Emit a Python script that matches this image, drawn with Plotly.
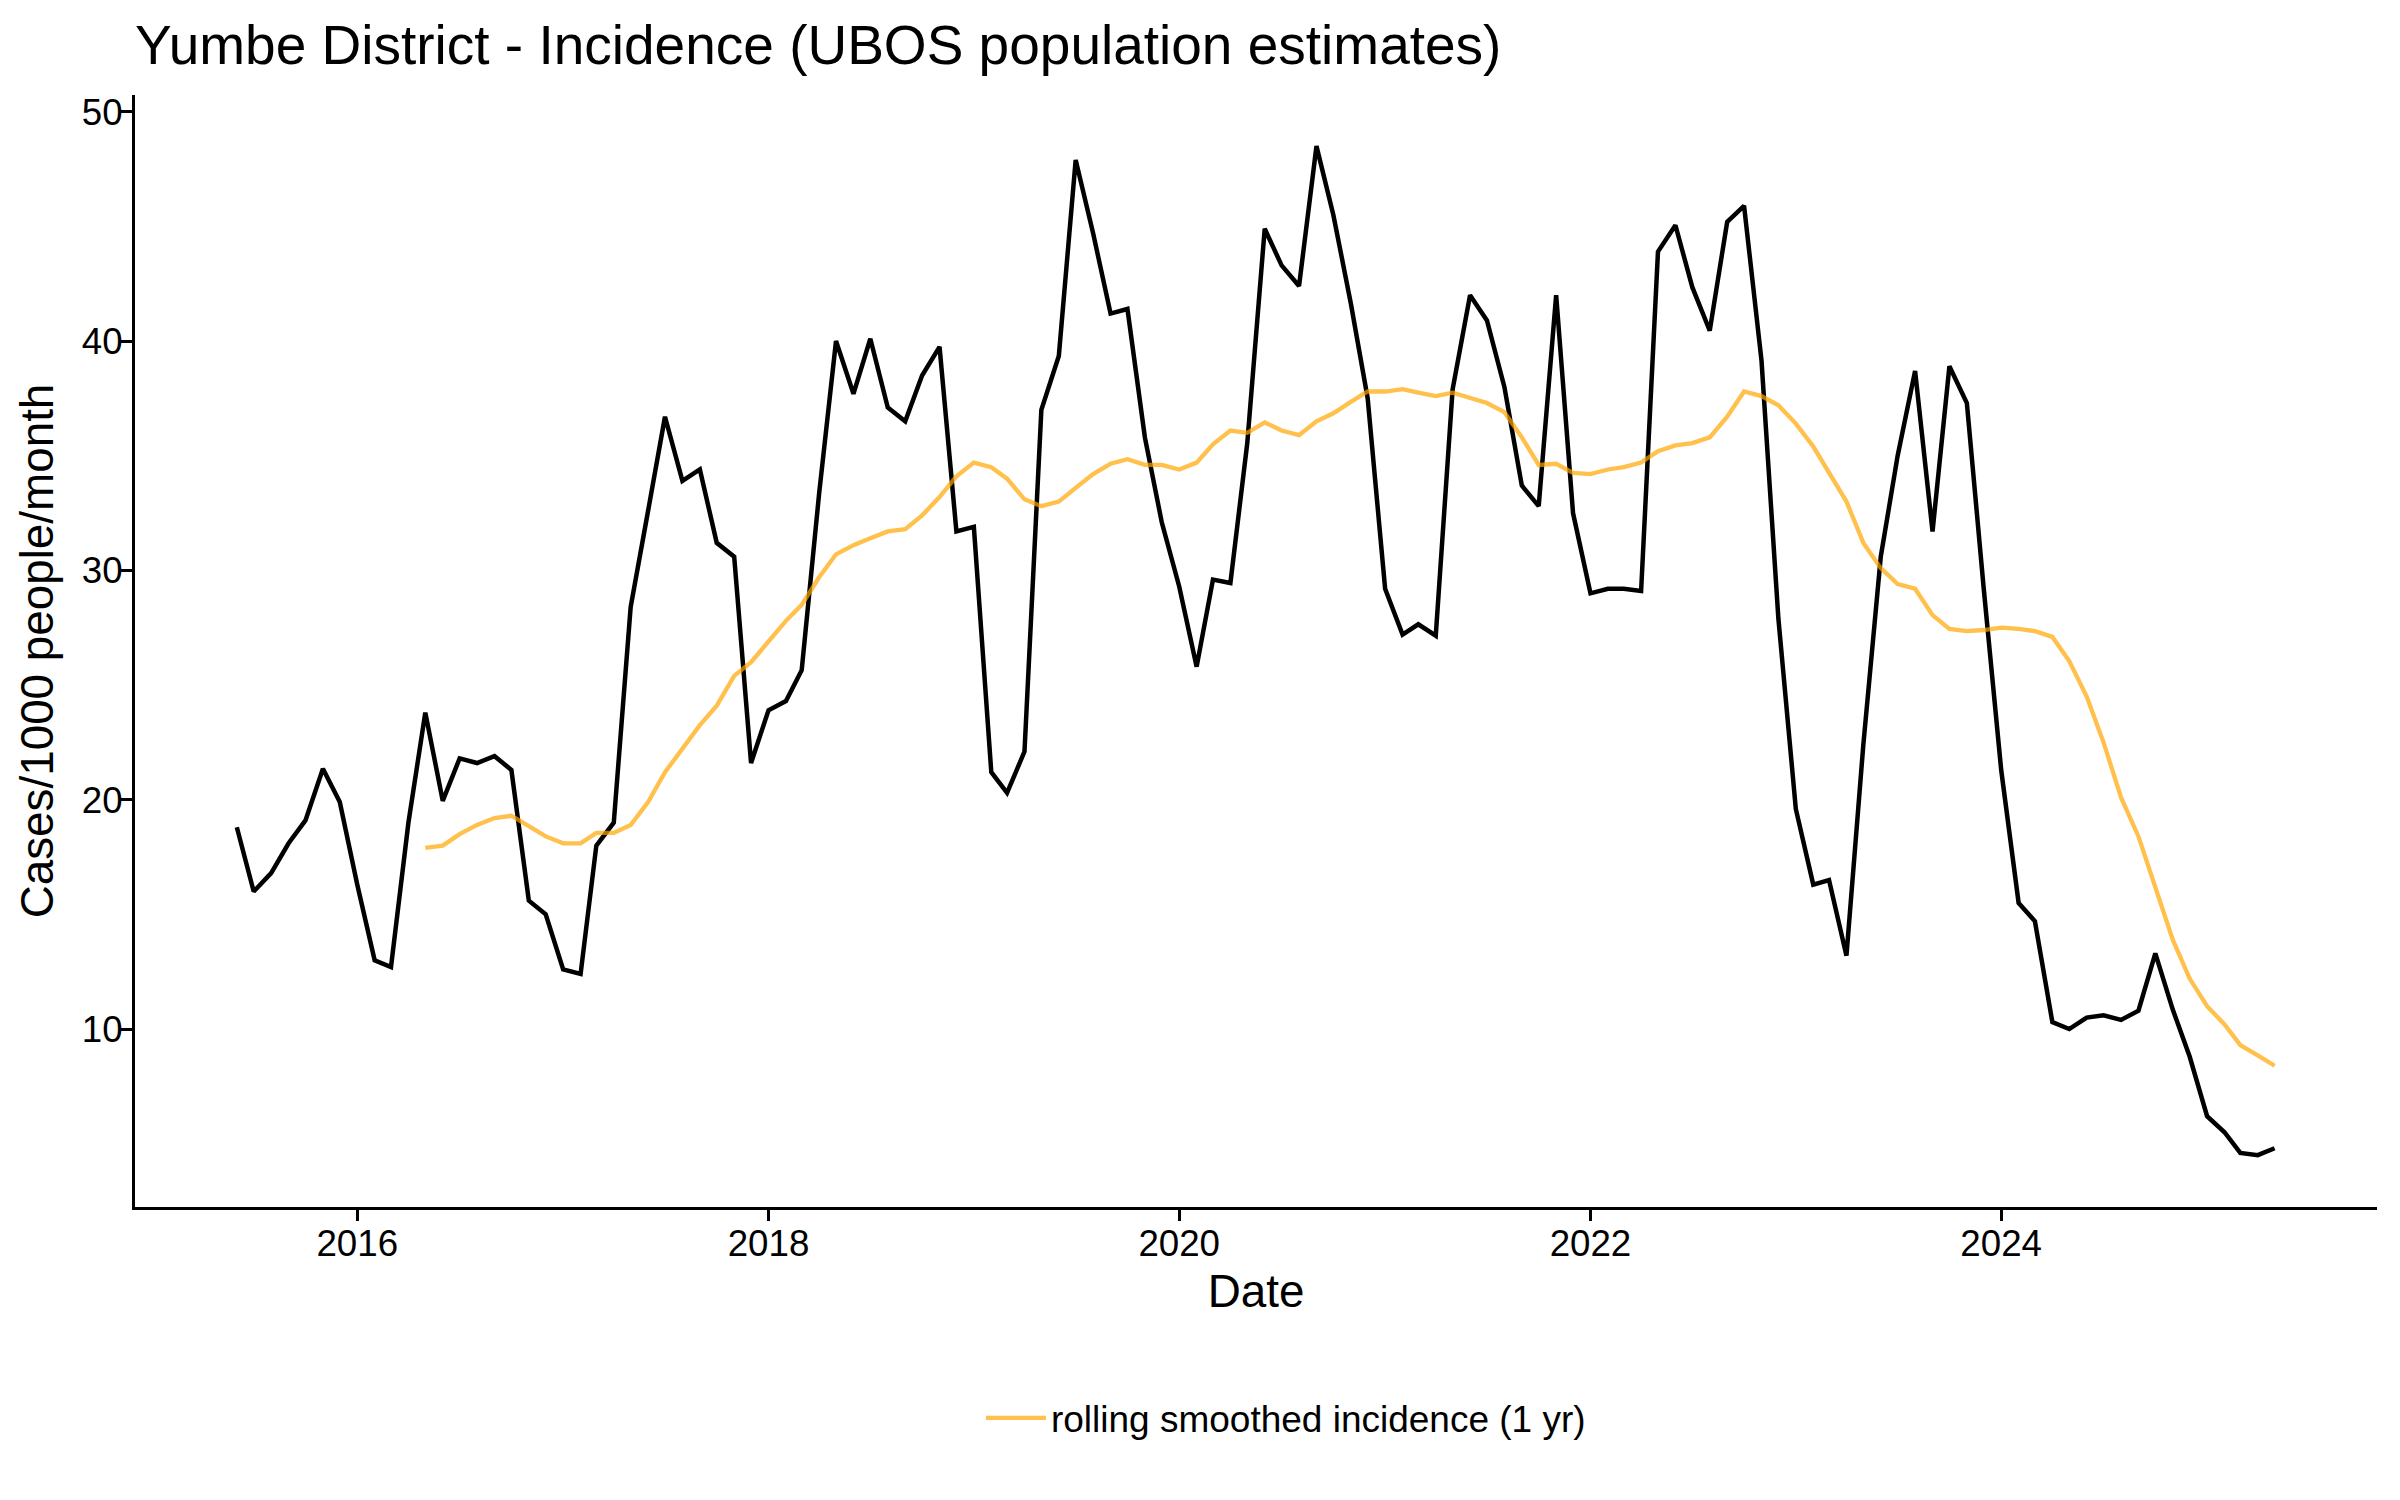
import pandas as pd
import plotly.graph_objects as go

# Monthly incidence (cases/1000 people/month), June 2015 - May 2025
start_month = "2015-06-01"
incidence = [
    18.8, 16.0, 16.8, 18.1, 19.1, 21.35, 19.9, 16.3, 13.0, 12.7, 19.0, 23.8,
    19.95, 21.8, 21.6, 21.9, 21.3, 15.6, 15.0, 12.6, 12.4, 18.0, 19.0, 28.4,
    32.6, 36.7, 33.9, 34.4, 31.2, 30.6, 21.6, 23.9, 24.3, 25.65, 33.35, 40.0,
    37.7, 40.1, 37.1, 36.5, 38.5, 39.75, 31.7, 31.9, 21.2, 20.3, 22.1, 37.0,
    39.35, 47.9, 44.7, 41.2, 41.4, 35.8, 32.1, 29.3, 25.8, 29.6, 29.45, 35.55,
    44.9, 43.3, 42.4, 48.5, 45.5, 41.65, 37.5, 29.2, 27.2, 27.65, 27.15, 37.9,
    42.0, 40.9, 38.0, 33.7, 32.8, 42.0, 32.5, 29.0, 29.2, 29.2, 29.1, 43.9,
    45.05, 42.35, 40.45, 45.2, 45.9, 39.15, 27.9, 19.6, 16.3, 16.5, 13.2, 22.4,
    30.6, 35.0, 38.7, 31.7, 38.9, 37.3, 29.2, 21.3, 15.5, 14.7, 10.3, 10.0,
    10.5, 10.6, 10.4, 10.8, 13.3, 10.85, 8.8, 6.2, 5.5, 4.6, 4.5, 4.8,
]

# Rolling 1-year smoothed incidence, May 2016 - May 2025
rolling_start_month = "2016-05-01"
rolling = [
    17.9, 18.0, 18.5, 18.9, 19.2, 19.3, 18.85, 18.4, 18.1, 18.1, 18.55, 18.55,
    18.9, 19.9, 21.2, 22.2, 23.25, 24.1, 25.4, 26.0, 26.9, 27.8, 28.5, 29.7,
    30.7, 31.1, 31.4, 31.7, 31.8, 32.4, 33.2, 34.1, 34.7, 34.5, 34.0, 33.1,
    32.8, 33.0, 33.6, 34.2, 34.65, 34.85, 34.6, 34.6, 34.4, 34.7, 35.5, 36.1,
    36.0, 36.45, 36.1, 35.9, 36.5, 36.85, 37.35, 37.8, 37.8, 37.9, 37.75, 37.6,
    37.75, 37.5, 37.3, 36.9, 35.8, 34.6, 34.65, 34.25, 34.2, 34.4, 34.5, 34.7,
    35.2, 35.45, 35.55, 35.8, 36.7, 37.8, 37.6, 37.2, 36.4, 35.4, 34.25, 33.0,
    31.2, 30.1, 29.4, 29.2, 28.05, 27.45, 27.35, 27.4, 27.5, 27.45, 27.35, 27.1,
    26.05, 24.5, 22.5, 20.1, 18.4, 16.2, 13.9, 12.2, 11.0, 10.2, 9.3, 8.85,
    8.4,
]

x_tick_values = ["2016-01-01", "2018-01-01", "2020-01-01", "2022-01-01", "2024-01-01"]
x_tick_labels = ["2016", "2018", "2020", "2022", "2024"]
y_tick_values = [10, 20, 30, 40, 50]

title_text = "Yumbe District - Incidence (UBOS population estimates)"
x_title = "Date"
y_title = "Cases/1000 people/month"
legend_label = "rolling smoothed incidence (1 yr)"

dates = pd.date_range(start_month, periods=len(incidence), freq="MS")
rolling_dates = pd.date_range(rolling_start_month, periods=len(rolling), freq="MS")

FONT = "Liberation Sans, Arial, Helvetica, sans-serif"

fig = go.Figure()
fig.add_trace(go.Scatter(
    x=dates, y=incidence, mode="lines",
    line=dict(color="black", width=4.5),
    showlegend=False, name="incidence",
))
fig.add_trace(go.Scatter(
    x=rolling_dates, y=rolling, mode="lines",
    line=dict(color="rgba(255,165,0,0.7)", width=4.3),
    name=legend_label, showlegend=True,
))

fig.update_layout(
    width=2392, height=1492,
    margin=dict(l=127, r=23, t=87, b=293, autoexpand=False),
    paper_bgcolor="white", plot_bgcolor="white",
    font=dict(family=FONT, color="black", size=37),
    title=dict(
        text=title_text, font=dict(family=FONT, size=55, color="black"),
        xref="paper", x=0.0, xanchor="left",
        yref="container", y=1 - 37 / 1492, yanchor="middle",
    ),
    legend=dict(
        orientation="h", x=0.3773, xanchor="left", y=-0.19, yanchor="middle",
        font=dict(family=FONT, size=37, color="black"),
        bgcolor="rgba(0,0,0,0)", itemwidth=60,
    ),
    xaxis=dict(
        range=["2014-12-02", "2025-10-30"],
        tickvals=x_tick_values, ticktext=x_tick_labels,
        showgrid=False, zeroline=False,
        showline=True, linecolor="black", linewidth=3,
        ticks="outside", ticklen=11, tickwidth=3, tickcolor="black",
        ticklabelstandoff=-9,
        tickfont=dict(family=FONT, size=36.7, color="black"),
        title=dict(text=x_title, font=dict(family=FONT, size=45.8, color="black"), standoff=12),
    ),
    yaxis=dict(
        range=[2.24, 50.73],
        tickvals=y_tick_values,
        showgrid=False, zeroline=False,
        showline=True, linecolor="black", linewidth=3,
        ticks="outside", ticklen=11, tickwidth=3, tickcolor="black",
        ticklabelstandoff=-9,
        tickfont=dict(family=FONT, size=36.7, color="black"),
        title=dict(text=y_title, font=dict(family=FONT, size=45.8, color="black"), standoff=14),
    ),
)

fig.write_html("out.html")
